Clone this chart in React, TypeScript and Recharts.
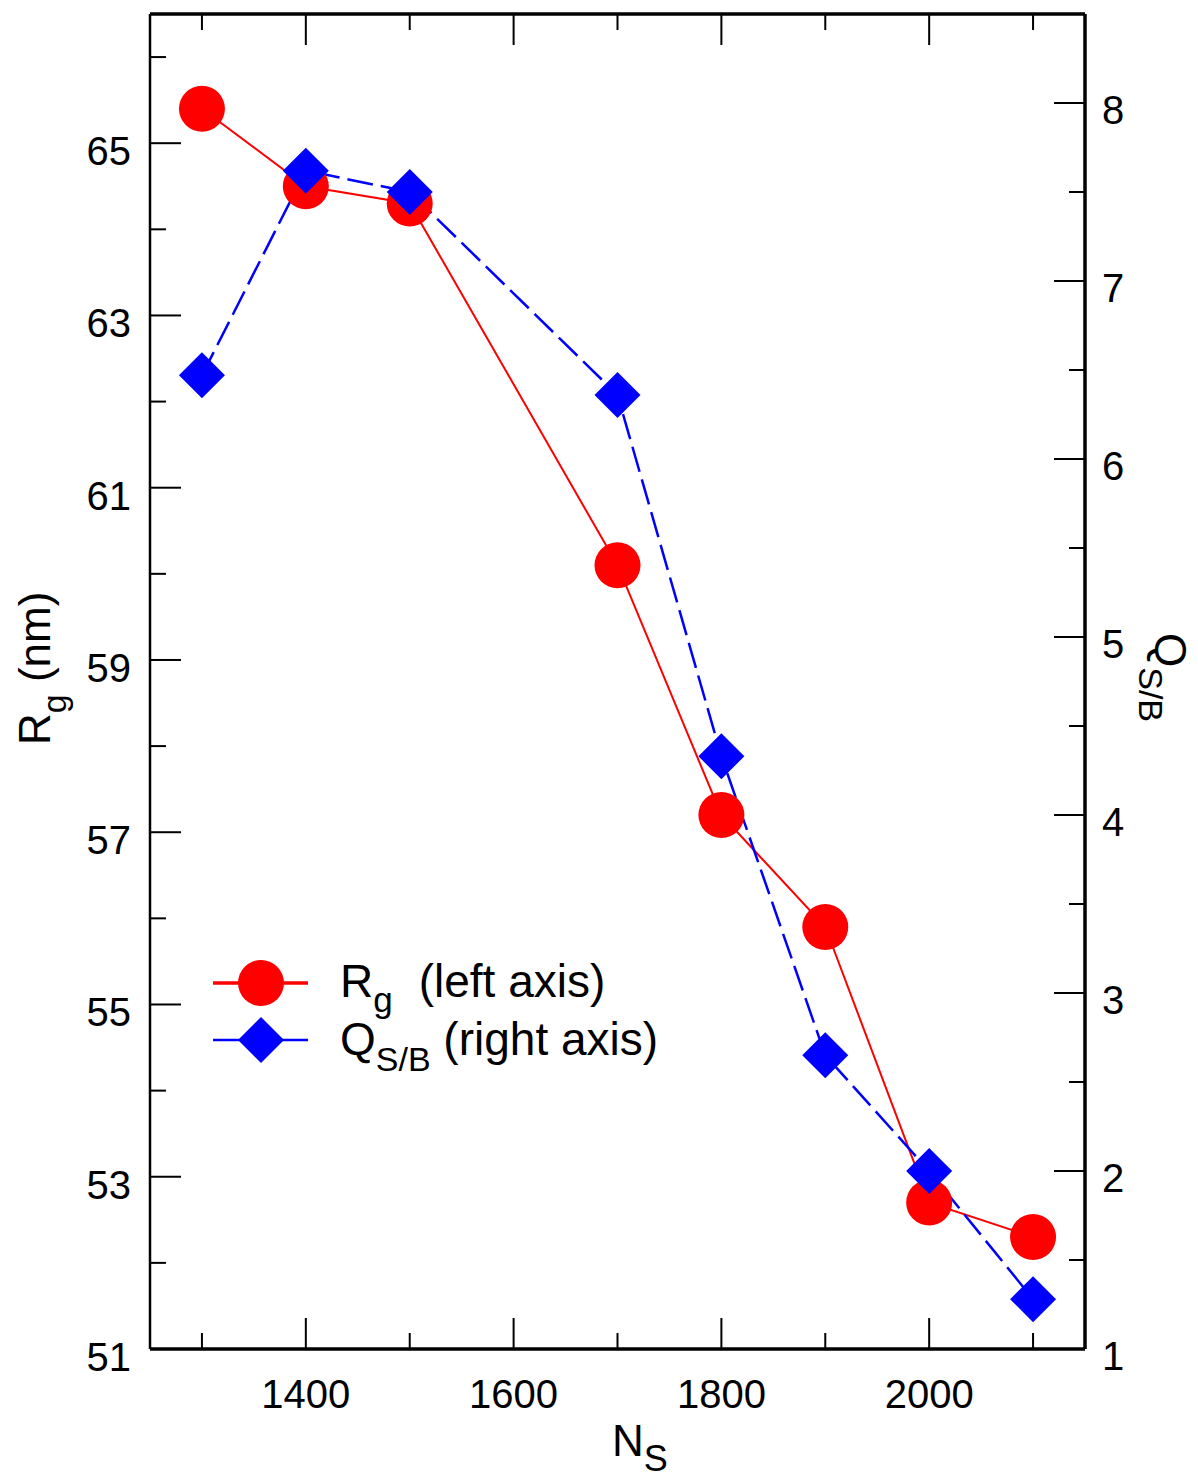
import React from 'react';
import { ComposedChart, Line, XAxis, YAxis, Legend } from 'recharts';

// N_S values and the two measured series
const nsValues = [1300, 1400, 1500, 1700, 1800, 1900, 2000, 2100];
const rgValues = [65.4, 64.5, 64.3, 60.1, 57.2, 55.9, 52.7, 52.3];
const qValues = [6.47, 7.62, 7.5, 6.36, 4.33, 2.65, 2.0, 1.28];

// ticks (minor + major) and which of them carry labels
const xTicks = [1300, 1400, 1500, 1600, 1700, 1800, 1900, 2000, 2100];
const xLabels = [1400, 1600, 1800, 2000];
const leftTicks = [51, 52, 53, 54, 55, 56, 57, 58, 59, 60, 61, 62, 63, 64, 65, 66];
const leftLabels = [51, 53, 55, 57, 59, 61, 63, 65];
const rightTicks = [1, 1.5, 2, 2.5, 3, 3.5, 4, 4.5, 5, 5.5, 6, 6.5, 7, 7.5, 8];
const rightLabels = [1, 2, 3, 4, 5, 6, 7, 8];

const data = nsValues.map((ns, i) => ({ ns, rg: rgValues[i], q: qValues[i] }));

const RED = '#ff0000';
const BLUE = '#0000ff';
const FONT = '"Liberation Sans", Arial, Helvetica, sans-serif';
const MAJOR = 31;
const MINOR = 16;
const MARK = 23;

type Side = 'bottom' | 'top' | 'left' | 'right';

function makeTick(side: Side, majors: number[], showLabels: boolean) {
  return (props: any) => {
    const { x, y, payload } = props;
    const v = payload.value;
    const major = majors.includes(v);
    const len = major ? MAJOR : MINOR;
    let line;
    let label = null;
    if (side === 'bottom') {
      line = <line x1={x} y1={y} x2={x} y2={y - len} stroke="#000" strokeWidth={2} />;
      if (major && showLabels)
        label = <text x={x} y={y + 59} textAnchor="middle" fontSize={40} fontFamily={FONT} fill="#000">{v}</text>;
    } else if (side === 'top') {
      line = <line x1={x} y1={y} x2={x} y2={y + len} stroke="#000" strokeWidth={2} />;
    } else if (side === 'left') {
      line = <line x1={x} y1={y} x2={x + len} y2={y} stroke="#000" strokeWidth={2} />;
      if (major && showLabels)
        label = <text x={x - 19} y={y + 22} textAnchor="end" fontSize={40} fontFamily={FONT} fill="#000">{v}</text>;
    } else {
      line = <line x1={x} y1={y} x2={x - len} y2={y} stroke="#000" strokeWidth={2} />;
      if (major && showLabels)
        label = <text x={x + 17} y={y + 21} textAnchor="start" fontSize={40} fontFamily={FONT} fill="#000">{v}</text>;
    }
    return (
      <g>
        {line}
        {label}
      </g>
    );
  };
}

const CircleDot = (props: any) => {
  const { cx, cy, index } = props;
  return <circle key={`c${index}`} cx={cx} cy={cy} r={MARK} fill={RED} />;
};

const DiamondDot = (props: any) => {
  const { cx, cy, index } = props;
  return (
    <path
      key={`d${index}`}
      d={`M${cx},${cy - MARK} L${cx + MARK},${cy} L${cx},${cy + MARK} L${cx - MARK},${cy} Z`}
      fill={BLUE}
    />
  );
};

const LeftTitle = () => (
  <text x={50} y={745} transform="rotate(-90 50 745)" fontSize={44} fontFamily={FONT} fill="#000">
    <tspan>R</tspan>
    <tspan dy={16} fontSize={34}>g</tspan>
    <tspan dy={-16}> (nm)</tspan>
  </text>
);

const RightTitle = () => (
  <text x={1155} y={633} transform="rotate(90 1155 633)" fontSize={44} fontFamily={FONT} fill="#000">
    <tspan>Q</tspan>
    <tspan dy={16} fontSize={34}>S/B</tspan>
  </text>
);

const BottomTitle = () => (
  <text x={612} y={1456} fontSize={44} fontFamily={FONT} fill="#000">
    <tspan>N</tspan>
    <tspan dy={15} fontSize={36}>S</tspan>
  </text>
);

const LegendBox = () => (
  <svg width={480} height={130} style={{ display: 'block', overflow: 'visible' }}>
    <line x1={8} y1={33} x2={103} y2={33} stroke={RED} strokeWidth={3.5} />
    <circle cx={56} cy={33} r={MARK} fill={RED} />
    <text x={135} y={47} fontSize={46} fontFamily={FONT} fill="#000">
      <tspan>R</tspan>
      <tspan dy={15} fontSize={35}>g</tspan>
      <tspan dy={-15} dx={26}>(left axis)</tspan>
    </text>
    <line x1={8} y1={90} x2={103} y2={90} stroke={BLUE} strokeWidth={2.5} />
    <path d={`M56,${90 - MARK} L${56 + MARK},90 L56,${90 + MARK} L${56 - MARK},90 Z`} fill={BLUE} />
    <text x={135} y={105} fontSize={46} fontFamily={FONT} fill="#000">
      <tspan>Q</tspan>
      <tspan dy={16} fontSize={34}>S/B</tspan>
      <tspan dy={-16}> (right axis)</tspan>
    </text>
  </svg>
);

export default function App() {
  return (
    <div style={{ position: 'absolute', left: 0, top: 0, width: 1198, height: 1482, background: '#fff' }}>
      <ComposedChart width={1198} height={1482} data={data} margin={{ top: 13, right: 0, bottom: 0, left: 0 }}>
        <XAxis
          xAxisId="b"
          dataKey="ns"
          type="number"
          orientation="bottom"
          domain={[1250, 2150]}
          ticks={xTicks}
          interval={0}
          allowDataOverflow
          height={133}
          tickSize={0}
          tickMargin={0}
          tickLine={false}
          axisLine={{ stroke: '#000', strokeWidth: 3.5 }}
          tick={makeTick('bottom', xLabels, true)}
          label={{ content: () => <BottomTitle /> }}
        />
        <XAxis
          xAxisId="t"
          dataKey="ns"
          type="number"
          orientation="top"
          domain={[1250, 2150]}
          ticks={xTicks}
          interval={0}
          allowDataOverflow
          height={1}
          tickSize={0}
          tickMargin={0}
          tickLine={false}
          axisLine={{ stroke: '#000', strokeWidth: 3.5 }}
          tick={makeTick('top', xLabels, false)}
        />
        <YAxis
          yAxisId="l"
          orientation="left"
          type="number"
          domain={[51, 66.5]}
          ticks={leftTicks}
          interval={0}
          allowDataOverflow
          width={150}
          tickSize={0}
          tickMargin={0}
          tickLine={false}
          axisLine={{ stroke: '#000', strokeWidth: 2.5 }}
          tick={makeTick('left', leftLabels, true)}
          label={{ content: () => <LeftTitle /> }}
        />
        <YAxis
          yAxisId="r"
          orientation="right"
          type="number"
          domain={[1, 8.5]}
          ticks={rightTicks}
          interval={0}
          allowDataOverflow
          width={113}
          tickSize={0}
          tickMargin={0}
          tickLine={false}
          axisLine={{ stroke: '#000', strokeWidth: 3.5 }}
          tick={makeTick('right', rightLabels, true)}
          label={{ content: () => <RightTitle /> }}
        />
        <Legend
          verticalAlign="middle"
          align="center"
          wrapperStyle={{ left: 205, top: 950, width: 480, height: 130 }}
          content={() => <LegendBox />}
        />
        <Line
          xAxisId="b"
          yAxisId="l"
          dataKey="rg"
          name="Rg (left axis)"
          type="linear"
          stroke={RED}
          strokeWidth={2}
          dot={CircleDot}
          activeDot={false}
          isAnimationActive={false}
        />
        <Line
          xAxisId="b"
          yAxisId="r"
          dataKey="q"
          name="QS/B (right axis)"
          type="linear"
          stroke={BLUE}
          strokeWidth={2.5}
          strokeDasharray="26 8"
          dot={DiamondDot}
          activeDot={false}
          isAnimationActive={false}
        />
      </ComposedChart>
    </div>
  );
}
